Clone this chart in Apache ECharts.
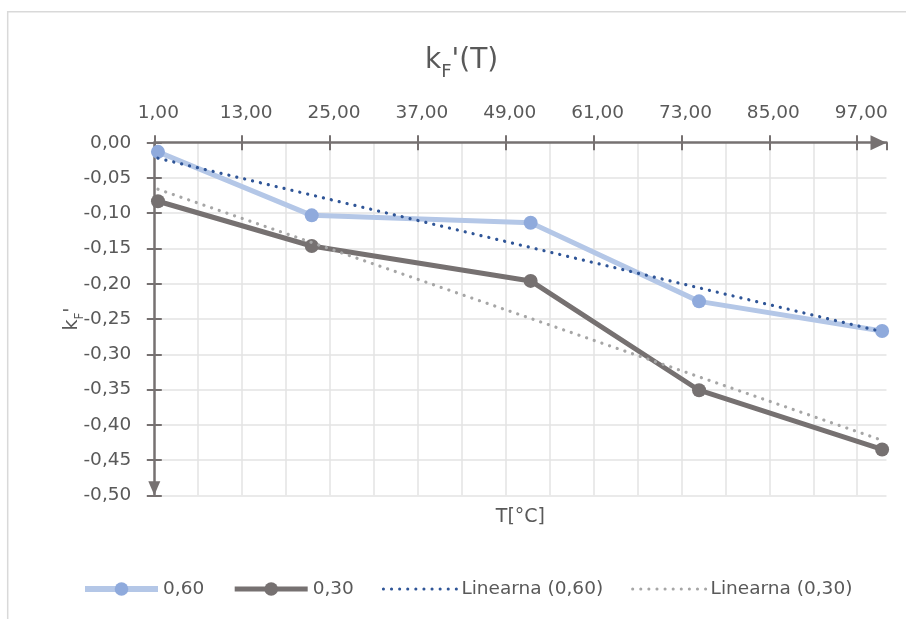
<!DOCTYPE html>
<html><head><meta charset="utf-8">
<script src="https://cdn.jsdelivr.net/npm/echarts@6/dist/echarts.min.js"></script>
<style>html,body{margin:0;padding:0;background:#fff}#c{width:906px;height:619px}</style>
</head><body><div id="c"></div>
<script>
// ---- data ----
const temps = [1.5, 22.5, 52.4, 75.4, 100.4];
const kf060 = [-0.013, -0.103, -0.1135, -0.225, -0.267];
const kf030 = [-0.083, -0.1465, -0.196, -0.351, -0.435];
const trendT = [1.5, 100.4];
const trend060 = [-0.022, -0.268];
const trend030 = [-0.066, -0.422];
const seriesNames = ['0,60', '0,30', 'Linearna (0,60)', 'Linearna (0,30)'];
const xMin = 1, xStep = 12, xMax = 101;
const yMin = -0.5, yMax = 0, yStep = 0.05;

const FONT = 'DejaVu Sans';
const TXT = '#595959';
const AX = '#767171';
const GRID = '#e3e3e3';
const fmt = v => v.toFixed(2).replace('.', ',');
const pairs = (xs, ys) => xs.map((x, i) => [x, ys[i]]);

const chart = echarts.init(document.getElementById('c'), null, {renderer: 'canvas'});
const gridCfg = {left: 154.3, right: 19.5, top: 142.7, bottom: 123.7, containLabel: false};

const xBase = {type: 'value', min: xMin, max: xMax, interval: xStep};
const yBase = {type: 'value', min: yMin, max: yMax, interval: yStep};

chart.setOption({
  backgroundColor: '#fff',
  animation: false,
  textStyle: {fontFamily: FONT},
  title: {
    text: '{a|k}{b|F}{a|\'(T)}',
    left: 420, top: 36,
    textStyle: {
      fontWeight: 'normal',
      rich: {
        a: {fontFamily: FONT, fontSize: 28, fontWeight: 'normal', color: TXT, lineHeight: 40, verticalAlign: 'middle'},
        b: {fontFamily: FONT, fontSize: 18, fontWeight: 'normal', color: TXT, lineHeight: 18, verticalAlign: 'bottom'}
      }
    }
  },
  graphic: [{
    type: 'rect', silent: true,
    shape: {x: 7.7, y: 11.7, width: 960, height: 700},
    style: {fill: 'none', stroke: '#d9d9d9', lineWidth: 1.5}
  }],
  legend: {
    left: 82, top: 579.5, padding: 0,
    itemWidth: 73, itemHeight: 17, itemGap: 28,
    textStyle: {fontFamily: FONT, fontSize: 18.5, color: TXT},
    data: [
      {name: seriesNames[0], lineStyle: {width: 6}},
      {name: seriesNames[1], lineStyle: {width: 5}},
      {name: seriesNames[2], itemStyle: {opacity: 0}, lineStyle: {width: 3}},
      {name: seriesNames[3], itemStyle: {opacity: 0}, lineStyle: {width: 3}}
    ]
  },
  grid: gridCfg,
  xAxis: [
    Object.assign({}, xBase, {
      position: 'top',
      axisLine: {show: true, lineStyle: {color: AX, width: 2.5}, symbol: ['none', 'triangle'], symbolSize: [15, 16], symbolOffset: [0, -8]},
      axisTick: {show: true, inside: false, length: 7.5, lineStyle: {color: AX, width: 2}},
      axisLabel: {show: true, formatter: fmt, fontFamily: FONT, fontSize: 18.5, color: TXT, margin: 20, showMaxLabel: false, padding: [0, 0, 0, 8]},
      splitLine: {show: true, showMinLine: false, showMaxLine: false, lineStyle: {color: GRID, width: 1.5}},
      minorTick: {show: false, splitNumber: 2},
      minorSplitLine: {show: true, lineStyle: {color: GRID, width: 1.5}}
    }),
    Object.assign({}, xBase, {
      position: 'top',
      axisLine: {show: false},
      axisTick: {show: true, inside: true, length: 7.5, lineStyle: {color: AX, width: 2}},
      axisLabel: {show: false},
      splitLine: {show: false}
    }),
    Object.assign({}, xBase, {
      position: 'bottom',
      name: 'T[°C]', nameLocation: 'middle', nameGap: 12,
      nameTextStyle: {fontFamily: FONT, fontSize: 19, color: TXT, verticalAlign: 'top'},
      axisLine: {show: false}, axisTick: {show: false}, axisLabel: {show: false}, splitLine: {show: false}
    })
  ],
  yAxis: [
    Object.assign({}, yBase, {
      position: 'left',
      name: '{a|k}{b|F}{a|\'}', nameLocation: 'middle', nameGap: 68, nameRotate: 90,
      nameMoveOverlap: false,
      nameTextStyle: {
        rich: {
          a: {fontFamily: FONT, fontSize: 19, color: TXT, lineHeight: 28, verticalAlign: 'middle'},
          b: {fontFamily: FONT, fontSize: 12, color: TXT, lineHeight: 12, verticalAlign: 'bottom'}
        }
      },
      axisLine: {show: true, lineStyle: {color: AX, width: 2.5}, symbol: ['triangle', 'none'], symbolSize: [12, 14], symbolOffset: [7, 0]},
      axisTick: {show: true, inside: false, length: 7.5, lineStyle: {color: AX, width: 2}},
      axisLabel: {show: true, formatter: fmt, fontFamily: FONT, fontSize: 18.5, color: TXT, margin: 23},
      splitLine: {show: true, showMaxLine: false, lineStyle: {color: GRID, width: 1.5}}
    }),
    Object.assign({}, yBase, {
      position: 'left',
      axisLine: {show: false},
      axisTick: {show: true, inside: true, length: 7.5, lineStyle: {color: AX, width: 2}},
      axisLabel: {show: false},
      splitLine: {show: false}
    })
  ],
  series: [
    {
      name: seriesNames[0], type: 'line', data: pairs(temps, kf060),
      symbol: 'circle', symbolSize: 14,
      lineStyle: {color: '#b4c7e7', width: 5},
      itemStyle: {color: '#8faadc', borderWidth: 0},
      z: 2
    },
    {
      name: seriesNames[1], type: 'line', data: pairs(temps, kf030),
      symbol: 'circle', symbolSize: 14,
      lineStyle: {color: AX, width: 5},
      itemStyle: {color: AX, borderWidth: 0},
      z: 2
    },
    {
      name: seriesNames[2], type: 'line', data: pairs(trendT, trend060),
      symbol: 'none',
      lineStyle: {color: '#2f5597', width: 3.2, type: [0.1, 8], cap: 'round'},
      itemStyle: {color: '#2f5597'},
      z: 3
    },
    {
      name: seriesNames[3], type: 'line', data: pairs(trendT, trend030),
      symbol: 'none',
      lineStyle: {color: '#a6a6a6', width: 3.2, type: [0.1, 8], cap: 'round'},
      itemStyle: {color: '#a6a6a6'},
      z: 3
    }
  ]
});
</script>
</body></html>
